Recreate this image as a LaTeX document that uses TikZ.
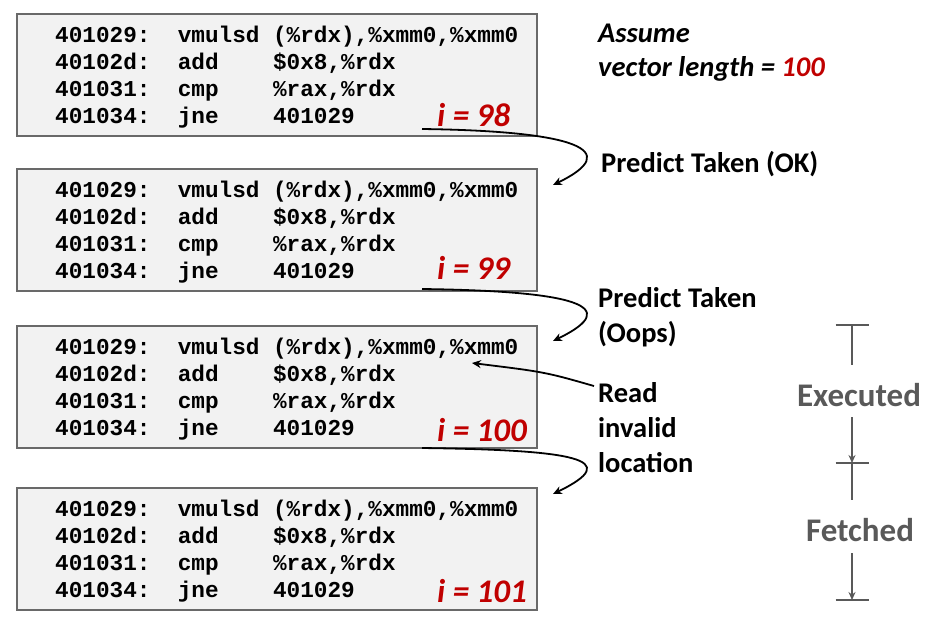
\documentclass[tikz,border=0pt]{standalone}
\usepackage{fontspec}
\setmainfont{Carlito}
\newfontfamily\codefont{Liberation Mono}
\usetikzlibrary{arrows.meta}
\definecolor{boxfill}{RGB}{242,242,242}
\definecolor{boxline}{RGB}{105,105,105}
\definecolor{ired}{RGB}{192,0,0}
\definecolor{tgray}{RGB}{89,89,89}
\newcommand\mycodeblock[4]{%
  \node[codebox] (#1) at (16,#2) {};
  \node[code] (#1a) at (55,#2+29) {401029:\ \ vmulsd (\%rdx),\%xmm0,\%xmm0};
  \node[code] (#1b) at (55,#2+56) {40102d:\ \ add\ \ \ \ \$0x8,\%rdx};
  \node[code] (#1c) at (55,#2+83) {401031:\ \ cmp\ \ \ \ \%rax,\%rdx};
  \node[code] (#1d) at (55,#2+110) {401034:\ \ jne\ \ \ \ 401029};
  \node[ilab] (#1i) at (437,#2+#4) {i = #3};
}
\begin{document}
\begin{tikzpicture}[x=1pt,y=-1pt,
  codebox/.style={draw=boxline, line width=1.5pt, fill=boxfill, minimum width=520pt, minimum height=122pt, inner sep=0pt, anchor=north west},
  code/.style={font=\codefont\bfseries\fontsize{22.7}{27}\selectfont, anchor=base west, inner sep=0pt},
  ilab/.style={font=\bfseries\itshape\fontsize{33}{40}\selectfont, text=ired, anchor=base west, inner sep=0pt},
  note/.style={font=\bfseries\fontsize{28.5}{35}\selectfont, anchor=base west, inner sep=0pt},
  inote/.style={font=\bfseries\itshape\fontsize{28.5}{35}\selectfont, anchor=base west, inner sep=0pt},
  conn/.style={line width=1.8pt, -{Stealth[length=9pt,width=8pt]}},
  phase/.style={font=\bfseries\fontsize{33}{40}\selectfont, text=tgray, inner sep=0pt},
  tick/.style={draw=tgray, line width=2.4pt},
  tarrow/.style={draw=tgray, line width=2.4pt, -{Stealth[length=8pt,width=7pt]}},
  ]
\useasboundingbox (0,0) rectangle (941,622);

\mycodeblock{b1}{13}{98}{113}
\mycodeblock{b2}{168}{99}{111}
\mycodeblock{b3}{325}{100}{116}
\mycodeblock{b4}{487}{101}{115}

% notes
\node[inote] (as1) at (598,42) {Assume};
\node[inote] (as2) at (598,76) {vector length = \textcolor{ired}{100}};
\node[note] (p1) at (601,172) {Predict Taken (OK)};
\node[note] (p2a) at (598,307) {Predict Taken};
\node[note] (p2b) at (598,342) {(Oops)};
\node[note] (r1) at (598,402) {Read};
\node[note] (r2) at (598,437) {invalid};
\node[note] (r3) at (598,472) {location};

% branch connectors
\coordinate (s1) at (422,129);
\coordinate (e1) at (553,185);
\coordinate (s2) at (422,289);
\coordinate (e2) at (553,341);
\coordinate (s3) at (422,448);
\coordinate (e3) at (553,494);
\draw[conn] (s1) .. controls (575,131) and (625,150) .. (e1);
\draw[conn] (s2) .. controls (575,291) and (625,306) .. (e2);
\draw[conn] (s3) .. controls (575,450) and (625,459) .. (e3);

% read invalid location arrow
\coordinate (rs) at (594,386);
\coordinate (rt) at (472,363);
\draw[conn] (rs) .. controls (545,372) .. (rt);

% executed / fetched
\node[phase] (exe) at (859,395) {Executed};
\node[phase] (fet) at (860,530) {Fetched};
\coordinate (t1) at (852,325);
\coordinate (t2) at (852,463);
\coordinate (t3) at (852,600);
\coordinate (u1) at (852,365);
\coordinate (u2) at (852,417);
\coordinate (u3) at (852,500);
\coordinate (u4) at (852,553);
\draw[tick] ([xshift=-16.5pt]t1) -- ([xshift=16.5pt]t1);
\draw[tick] ([xshift=-16.5pt]t2) -- ([xshift=16.5pt]t2);
\draw[tick] ([xshift=-16.5pt]t3) -- ([xshift=16.5pt]t3);
\draw[tick] (t1) -- (u1);
\draw[tarrow] (u2) -- (t2);
\draw[tick] (t2) -- (u3);
\draw[tarrow] (u4) -- (t3);
\end{tikzpicture}
\end{document}
